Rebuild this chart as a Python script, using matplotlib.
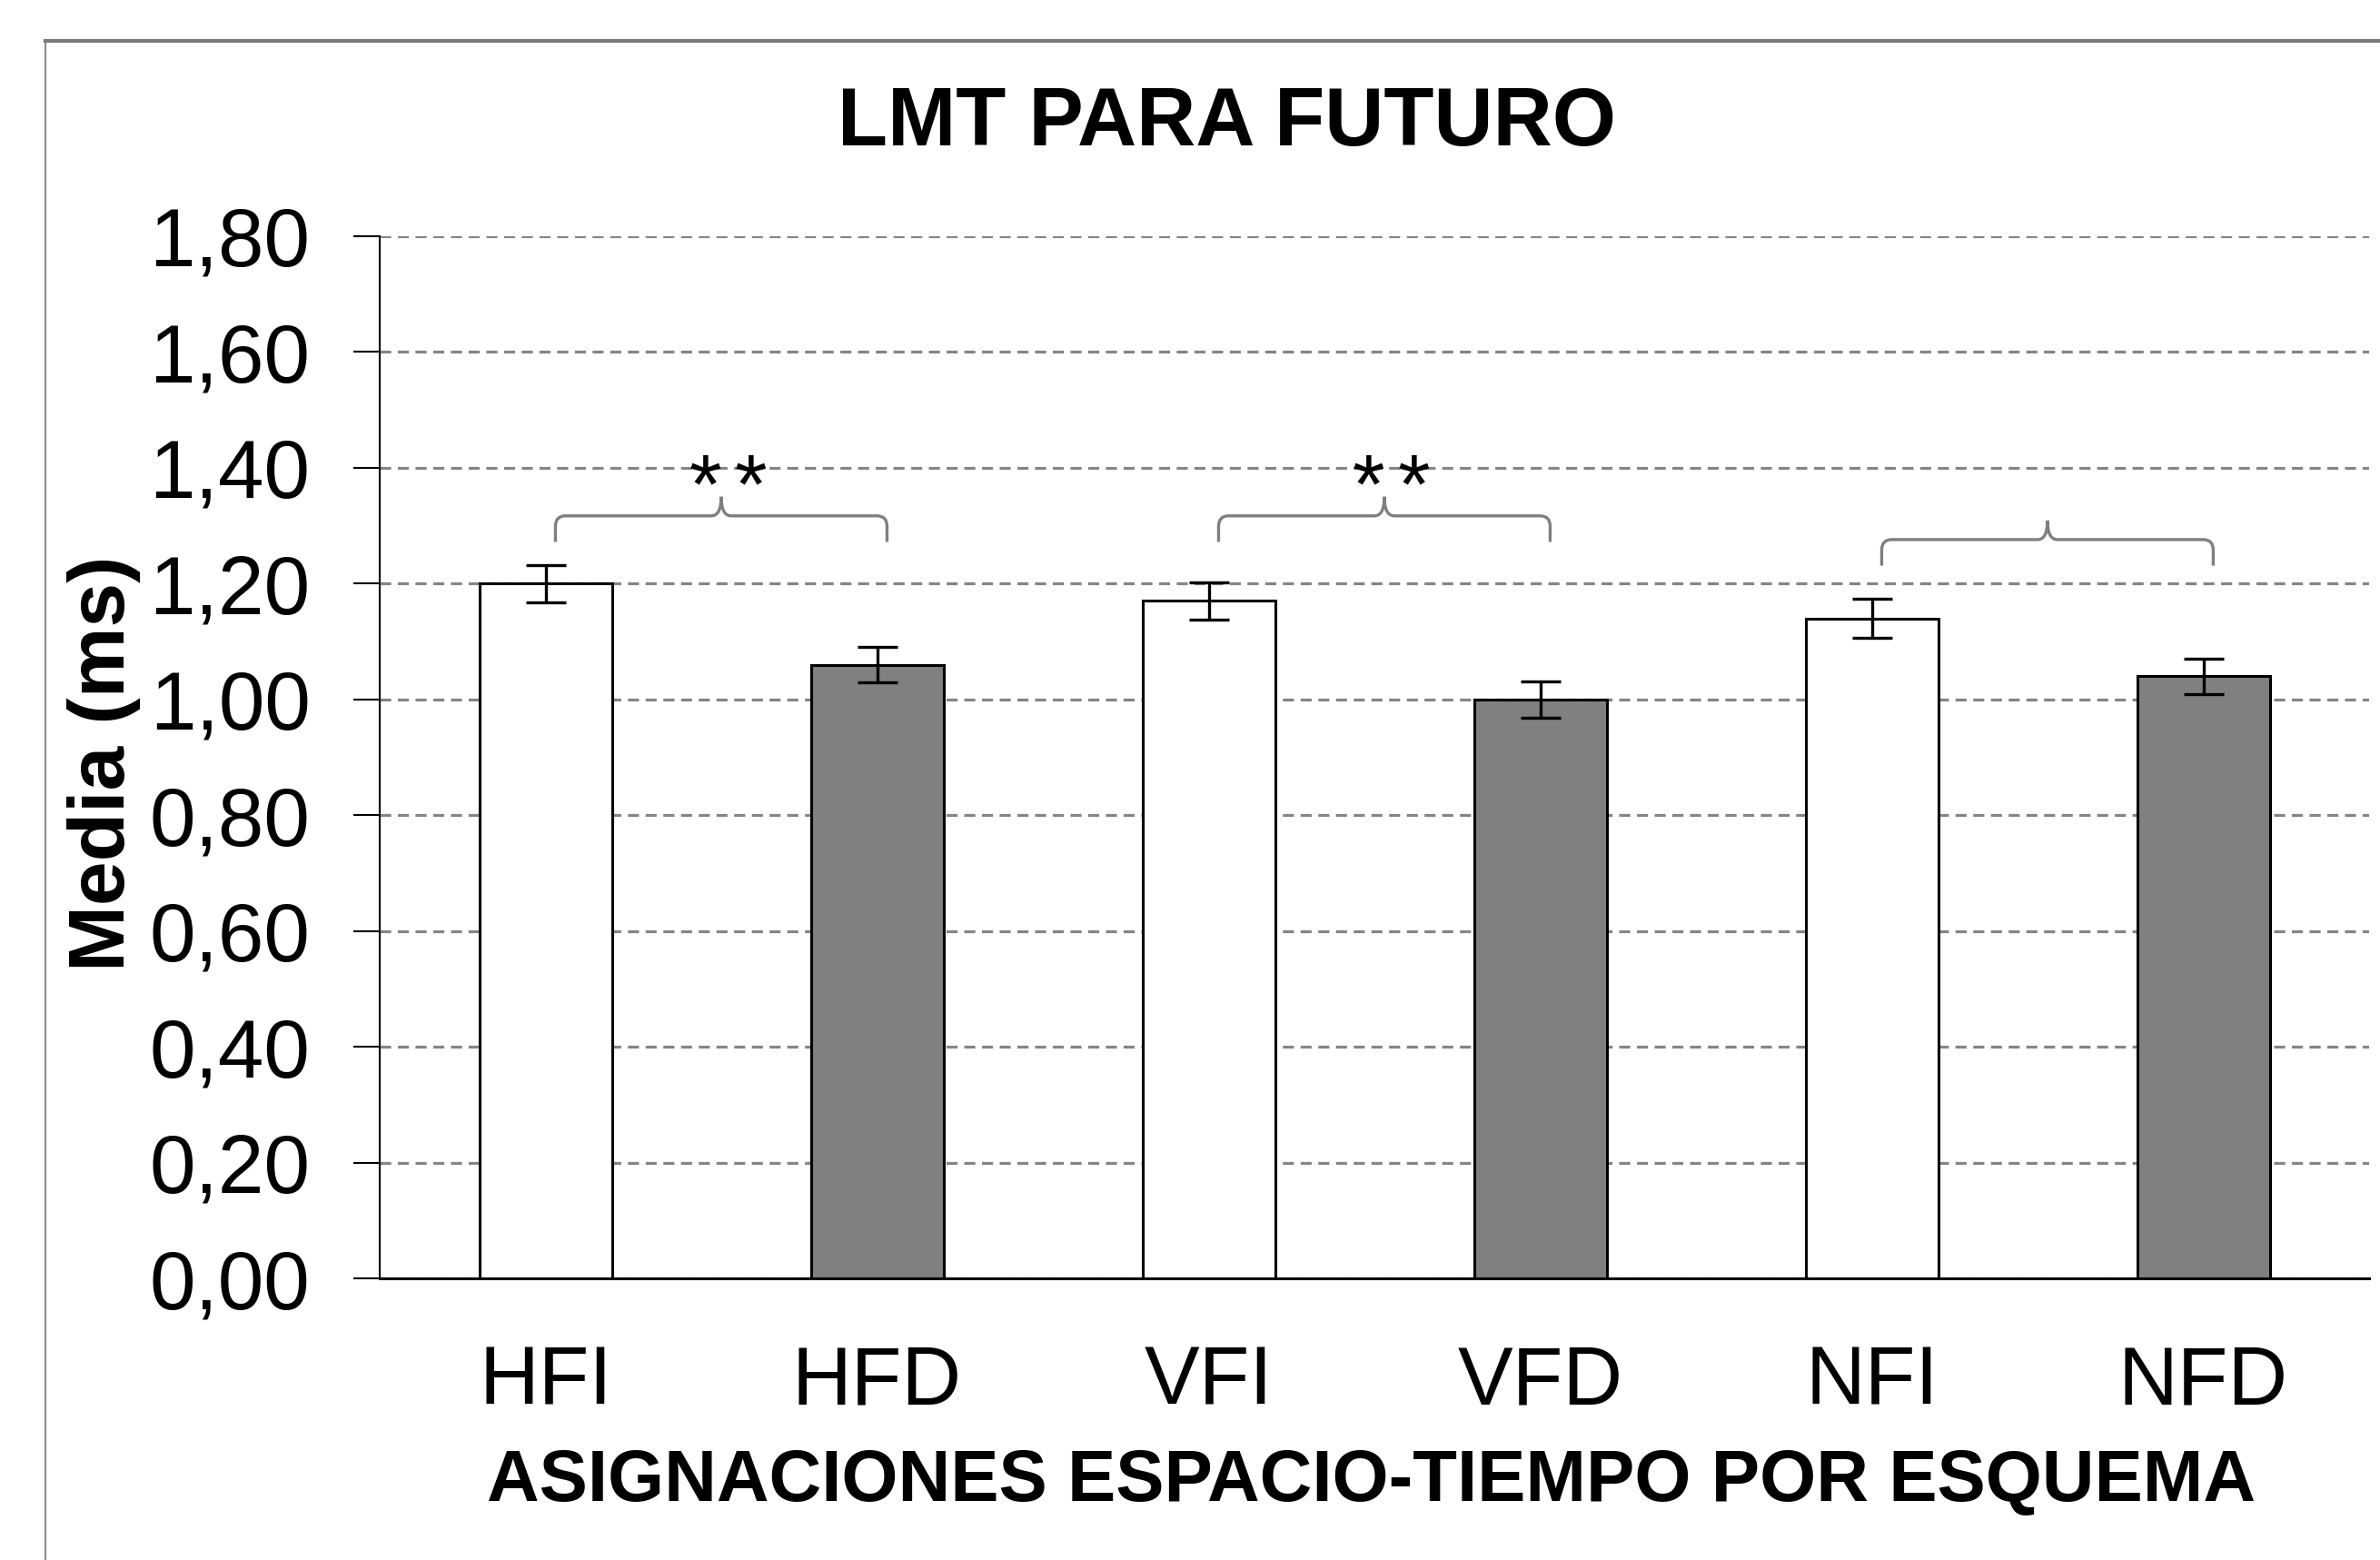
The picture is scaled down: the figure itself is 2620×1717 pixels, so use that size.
import numpy as np
import matplotlib
matplotlib.use('Agg')
import matplotlib.pyplot as plt
from matplotlib.path import Path
from matplotlib.patches import PathPatch

# data
categories = ['HFI', 'HFD', 'VFI', 'VFD', 'NFI', 'NFD']
means = [1.20, 1.06, 1.17, 1.00, 1.14, 1.04]
errors = [0.032, 0.031, 0.032, 0.031, 0.034, 0.031]
bar_colors = ['white', '#808080', 'white', '#808080', 'white', '#808080']
y_ticks = [0.0, 0.2, 0.4, 0.6, 0.8, 1.0, 1.2, 1.4, 1.6, 1.8]
y_tick_labels = ['0,00', '0,20', '0,40', '0,60', '0,80', '1,00', '1,20', '1,40', '1,60', '1,80']
comparisons = [(0, 1), (2, 3), (4, 5)]
comparison_marks = [2, 2, 0]   # number of asterisks over each brace
brace_levels = [1.317, 1.317, 1.276]

plt.rcParams['font.family'] = ['Liberation Sans', 'DejaVu Sans']

W, H = 2620, 1717
fig = plt.figure(figsize=(W / 100, H / 100), dpi=100)
fig.patch.set_facecolor('white')

# outer frame (only top and left edges visible in the picture)
fig.add_artist(plt.Line2D([50 / W, 50 / W], [0, 1 - 45 / H], transform=fig.transFigure,
                          color='#8a8a8a', lw=1.5))
fig.add_artist(plt.Line2D([50 / W, 1], [1 - 45 / H, 1 - 45 / H], transform=fig.transFigure,
                          color='#7a7a7a', lw=3))

ax = fig.add_axes([418 / W, 1 - 1407 / H, (2608 - 418) / W, (1407 - 260) / H])
x = np.arange(len(categories))

ax.bar(x, means, width=0.4, color=bar_colors, edgecolor='black', linewidth=2.2, zorder=3)
ax.errorbar(x, means, yerr=errors, fmt='none', ecolor='black', elinewidth=2.4,
            capsize=16, capthick=2.4, zorder=4)

ax.set_xlim(-0.5, len(categories) - 0.5)
ax.set_ylim(0, 1.8)
ax.set_yticks(y_ticks)
ax.set_yticklabels(y_tick_labels, fontsize=65.5)
ax.set_xticks(x)
ax.set_xticklabels(categories, fontsize=65.5)
ax.tick_params(axis='y', length=21, width=1.5, pad=34)
ax.tick_params(axis='x', length=0, pad=52)

ax.yaxis.grid(True, color='#858585', lw=2.3, linestyle=(0, (3.8, 2.3)), zorder=0)
ax.set_axisbelow(True)
for s in ['top', 'right']:
    ax.spines[s].set_visible(False)
ax.spines['left'].set_linewidth(1.5)
ax.spines['bottom'].set_linewidth(2.2)


def draw_brace(ax, x0, x1, y, drop=0.045, tip=0.033, dx=0.03):
    xm = (x0 + x1) / 2
    verts = [(x0, y - drop), (x0, y - drop * 0.4),
             (x0, y), (x0 + dx, y),
             (xm - dx, y),
             (xm, y), (xm, y + tip),
             (xm, y + tip), (xm, y), (xm + dx, y),
             (x1 - dx, y),
             (x1, y), (x1, y - drop * 0.4),
             (x1, y - drop)]
    codes = [Path.MOVETO, Path.LINETO,
             Path.CURVE3, Path.CURVE3,
             Path.LINETO,
             Path.CURVE3, Path.CURVE3,
             Path.MOVETO, Path.CURVE3, Path.CURVE3,
             Path.LINETO,
             Path.CURVE3, Path.CURVE3,
             Path.LINETO]
    ax.add_patch(PathPatch(Path(verts, codes), fill=False, edgecolor='#7f7f7f', lw=2.4,
                           clip_on=False, zorder=5))


for (i, j), n_stars, lev in zip(comparisons, comparison_marks, brace_levels):
    draw_brace(ax, i + 0.03, j + 0.03, lev)
    xc = (i + j) / 2 + 0.05
    for k in range(n_stars):
        ax.text(xc + (k - (n_stars - 1) / 2) * 0.137, lev + 0.005, '*', ha='center',
                va='baseline', fontsize=66, color='black', zorder=6)

fig.text(1350 / W, 1 - 160 / H, 'LMT PARA FUTURO', ha='center', va='baseline',
         fontsize=65, fontweight='bold')
fig.text(1510 / W, 1 - 1652 / H, 'ASIGNACIONES ESPACIO-TIEMPO POR ESQUEMA',
         ha='center', va='baseline', fontsize=57.5, fontweight='bold')
fig.text(115 / W, 1 - 840 / H, 'Media (ms)', ha='center', va='center', rotation=90,
         fontsize=63, fontweight='bold')

fig.savefig('out.png', dpi=100, facecolor='white')
